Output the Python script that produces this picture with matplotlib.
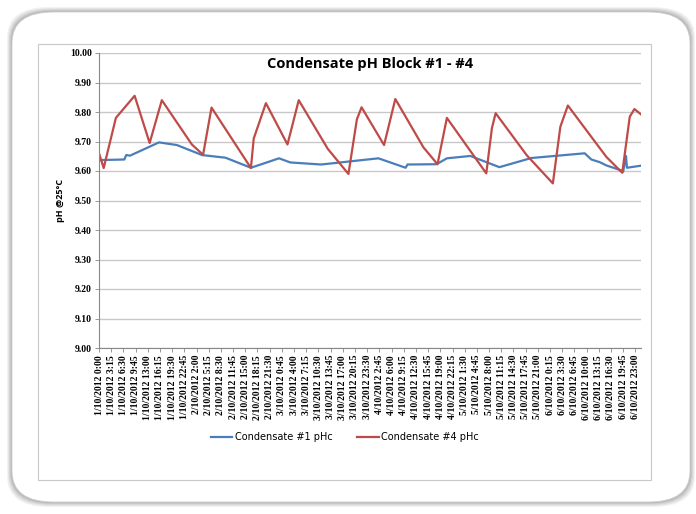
import matplotlib
matplotlib.use("Agg")
import matplotlib.pyplot as plt
from matplotlib.patches import FancyBboxPatch, Rectangle

# sample number (15 min steps from 1/10/2012 0:00) and pH readings at the corners of each line
c1_idx = [0, 27, 29, 33, 64, 83, 110, 135, 162, 192, 204, 237, 298, 327, 329, 360,
          371, 396, 427, 461, 518, 525, 534, 541, 557, 559, 562, 563, 578]
c1_ph = [9.637, 9.639, 9.654, 9.652, 9.697, 9.688, 9.654, 9.645, 9.611, 9.643, 9.629,
         9.622, 9.643, 9.611, 9.622, 9.623, 9.643, 9.651, 9.613, 9.644, 9.660, 9.639,
         9.630, 9.619, 9.602, 9.598, 9.651, 9.611, 9.618]

c4_idx = [0, 5, 18, 38, 54, 67, 99, 111, 120, 162, 165, 178, 201, 213, 244, 266, 275,
          280, 304, 316, 346, 361, 371, 413, 419, 423, 456, 484, 492, 500, 541, 558,
          566, 571, 578]
c4_ph = [9.660, 9.610, 9.780, 9.855, 9.695, 9.840, 9.690, 9.655, 9.815, 9.610, 9.710,
         9.830, 9.690, 9.840, 9.675, 9.590, 9.775, 9.816, 9.688, 9.844, 9.680, 9.623,
         9.780, 9.592, 9.745, 9.796, 9.654, 9.558, 9.750, 9.822, 9.648, 9.594, 9.784,
         9.810, 9.792]

tick_labels = [
    "1/10/2012 0:00", "1/10/2012 3:15", "1/10/2012 6:30", "1/10/2012 9:45",
    "1/10/2012 13:00", "1/10/2012 16:15", "1/10/2012 19:30", "1/10/2012 22:45",
    "2/10/2012 2:00", "2/10/2012 5:15", "2/10/2012 8:30", "2/10/2012 11:45",
    "2/10/2012 15:00", "2/10/2012 18:15", "2/10/2012 21:30", "3/10/2012 0:45",
    "3/10/2012 4:00", "3/10/2012 7:15", "3/10/2012 10:30", "3/10/2012 13:45",
    "3/10/2012 17:00", "3/10/2012 20:15", "3/10/2012 23:30", "4/10/2012 2:45",
    "4/10/2012 6:00", "4/10/2012 9:15", "4/10/2012 12:30", "4/10/2012 15:45",
    "4/10/2012 19:00", "4/10/2012 22:15", "5/10/2012 1:30", "5/10/2012 4:45",
    "5/10/2012 8:00", "5/10/2012 11:15", "5/10/2012 14:30", "5/10/2012 17:45",
    "5/10/2012 21:00", "6/10/2012 0:15", "6/10/2012 3:30", "6/10/2012 6:45",
    "6/10/2012 10:00", "6/10/2012 13:15", "6/10/2012 16:30", "6/10/2012 19:45",
    "6/10/2012 23:00",
]
tick_step = 13
y_ticks = [9.0, 9.1, 9.2, 9.3, 9.4, 9.5, 9.6, 9.7, 9.8, 9.9, 10.0]

W, H = 696, 514
fig = plt.figure(figsize=(W / 100, H / 100), dpi=100)
fig.patch.set_facecolor("white")

# card with soft shadow
for i, a in enumerate([0.05, 0.05, 0.06, 0.07, 0.08]):
    g = 5 - i
    fig.patches.append(FancyBboxPatch(
        ((12 - g) / W, (12 - g) / H), (678 + 2 * g) / W, (490 + 2 * g) / H,
        boxstyle="round,pad=0,rounding_size=0.06", transform=fig.transFigure,
        facecolor="black", edgecolor="none", alpha=a, zorder=0))
fig.patches.append(FancyBboxPatch(
    (12 / W, 12 / H), 678 / W, 490 / H,
    boxstyle="round,pad=0,rounding_size=0.06", transform=fig.transFigure,
    facecolor="white", edgecolor="#d0d0d0", linewidth=0.6, zorder=1))
# inner chart border
fig.patches.append(Rectangle((38 / W, (H - 480) / H), 613 / W, 436 / H,
                             transform=fig.transFigure, facecolor="none",
                             edgecolor="#c8c8c8", linewidth=0.8, zorder=2))

ax = fig.add_axes([99 / W, 1 - 348 / H, 542 / W, 295 / H])
ax.set_zorder(3)
ax.set_facecolor("none")

ax.plot(c1_idx, c1_ph, color="#4a7ebb", linewidth=1.6, label="Condensate #1 pHc")
ax.plot(c4_idx, c4_ph, color="#be4b48", linewidth=1.6, label="Condensate #4 pHc")

ax.set_xlim(0, 578)
ax.set_ylim(9.0, 10.0)
ax.set_yticks(y_ticks)
ax.set_yticklabels([f"{v:.2f}" for v in y_ticks], fontfamily="Liberation Serif",
                   fontweight="bold", fontsize=7)
ax.set_xticks([i * tick_step for i in range(len(tick_labels))])
ax.set_xticklabels(tick_labels, rotation=90, fontfamily="Liberation Serif",
                   fontweight="bold", fontsize=7)
ax.tick_params(axis="both", length=3, color="#888888", width=0.6, pad=2)
ax.grid(axis="y", color="#c8c8c8", linewidth=1)
ax.set_axisbelow(True)
for s in ["top", "right"]:
    ax.spines[s].set_visible(False)
for s in ["left", "bottom"]:
    ax.spines[s].set_color("#888888")
    ax.spines[s].set_linewidth(0.8)

ax.set_title("Condensate pH Block #1 - #4", fontfamily="Open Sans",
             fontweight="bold", fontsize=10.5, y=0.92)
ax.set_ylabel("pH @25°C", fontfamily="Open Sans", fontweight="bold", fontsize=6.5,
              labelpad=4)

fig.legend(loc="center", bbox_to_anchor=(345 / W, 1 - 437 / H), ncol=2, frameon=False,
           prop={"family": "Liberation Sans Narrow", "size": 7}, handlelength=2.2,
           columnspacing=2.5, handletextpad=0.3)

fig.savefig("out.png", dpi=100)
